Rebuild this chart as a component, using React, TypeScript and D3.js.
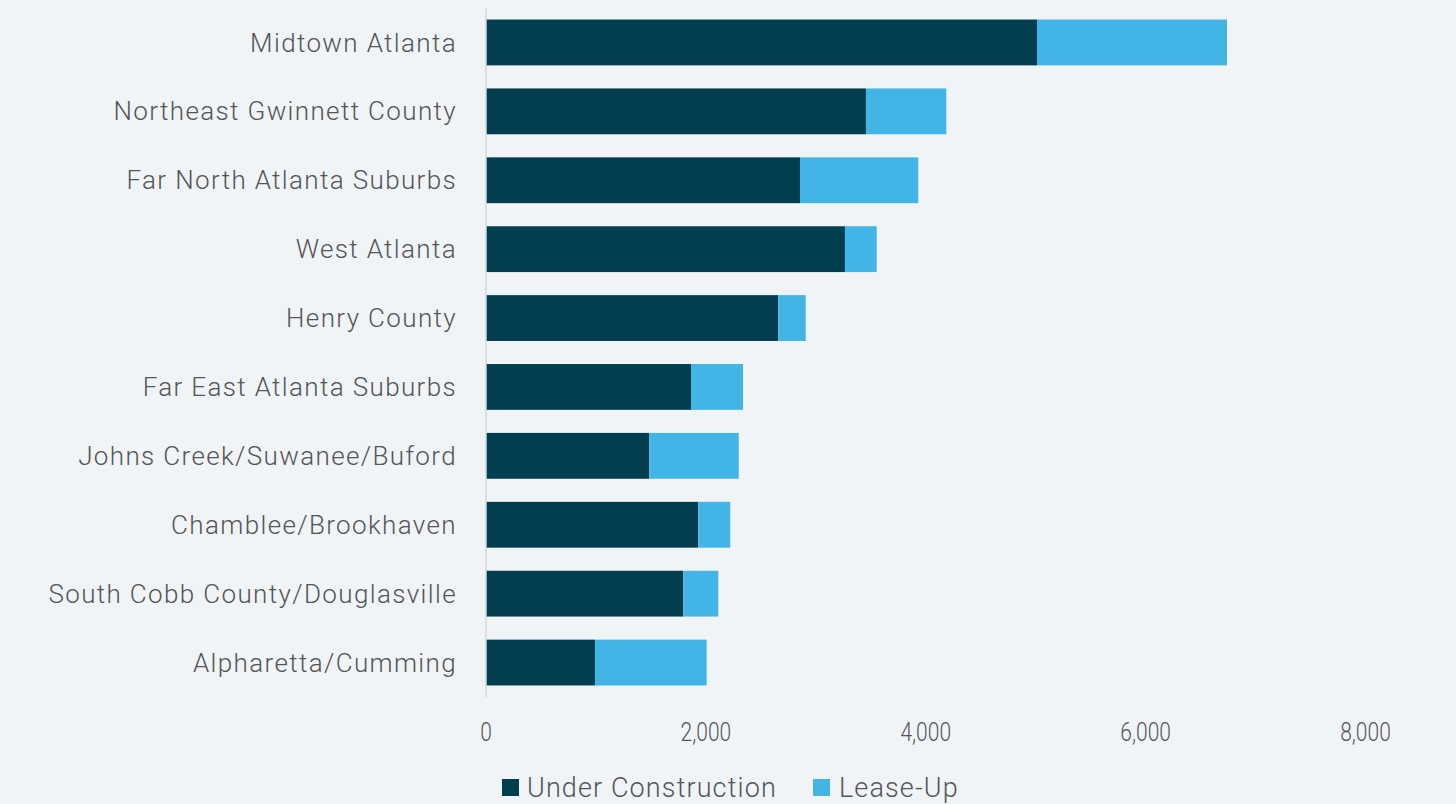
import React from "react";
import * as d3 from "d3";

const categories = [
  "Midtown Atlanta",
  "Northeast Gwinnett County",
  "Far North Atlanta Suburbs",
  "West Atlanta",
  "Henry County",
  "Far East Atlanta Suburbs",
  "Johns Creek/Suwanee/Buford",
  "Chamblee/Brookhaven",
  "South Cobb County/Douglasville",
  "Alpharetta/Cumming",
];
const underConstruction = [5012, 3456, 2856, 3265, 2659, 1865, 1485, 1931, 1795, 991];
const leaseUp = [1728, 731, 1076, 289, 249, 473, 814, 291, 318, 1016];
const xTicks = [0, 2000, 4000, 6000, 8000];
const seriesNames = ["Under Construction", "Lease-Up"];
const seriesColors = ["#023e50", "#42b4e5"];

const W = 1456;
const H = 804;

export default function App() {
  const x = d3.scaleLinear().domain([0, 8000]).range([486, 1365.5]);
  const y = d3
    .scaleBand<string>()
    .domain(categories)
    .range([8, 697])
    .paddingInner(0.335)
    .paddingOuter(0.1675);
  const fmt = d3.format(",");
  const labelFont = "Roboto, 'DejaVu Sans', sans-serif";
  return (
    <svg
      width={W}
      height={H}
      style={{ position: "absolute", left: 0, top: 0, background: "#f0f4f6" }}
    >
      <rect x={0} y={0} width={W} height={H} fill="#f0f4f6" />
      {categories.map((c, i) => {
        const y0 = y(c)!;
        const bw = y.bandwidth();
        return (
          <g key={c}>
            <rect
              x={x(0)}
              y={y0}
              width={x(underConstruction[i]) - x(0)}
              height={bw}
              fill={seriesColors[0]}
            />
            <rect
              x={x(underConstruction[i])}
              y={y0}
              width={x(underConstruction[i] + leaseUp[i]) - x(underConstruction[i])}
              height={bw}
              fill={seriesColors[1]}
            />
            <text
              x={457}
              y={y0 + bw / 2}
              dy="0.35em"
              textAnchor="end"
              fontFamily={labelFont}
              fontSize={26}
              fontWeight={300}
              letterSpacing={1.36}
              fill="#555555"
            >
              {c}
            </text>
          </g>
        );
      })}
      <line x1={x(0)} x2={x(0)} y1={8} y2={697} stroke="#d4d8da" strokeWidth={1.5} />
      {xTicks.map((t) => (
        <text
          key={t}
          x={x(t)}
          y={741}
          textAnchor="middle"
          fontFamily={labelFont}
          fontSize={25}
          fontWeight={300}
          fill="#555555"
          transform={`translate(${x(t)},0) scale(0.84,1) translate(${-x(t)},0)`}
        >
          {fmt(t)}
        </text>
      ))}
      <g>
        <rect x={502} y={779} width={17} height={17} fill={seriesColors[0]} />
        <text
          x={527}
          y={797}
          fontFamily={labelFont}
          fontSize={27}
          fontWeight={300}
          letterSpacing={1.12}
          fill="#555555"
        >
          {seriesNames[0]}
        </text>
        <rect x={813} y={779} width={17} height={17} fill={seriesColors[1]} />
        <text
          x={839}
          y={797}
          fontFamily={labelFont}
          fontSize={27}
          fontWeight={300}
          letterSpacing={1.12}
          fill="#555555"
        >
          {seriesNames[1]}
        </text>
      </g>
    </svg>
  );
}
